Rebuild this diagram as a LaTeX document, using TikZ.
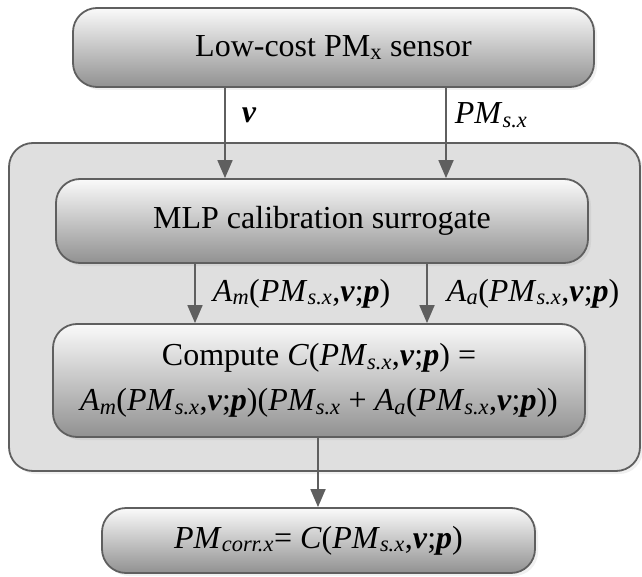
\documentclass[tikz,border=0pt]{standalone}
\usepackage{fontspec}
\setmainfont{Liberation Serif}
\usepackage{tikz}
\usetikzlibrary{positioning, arrows.meta, shadows}
\definecolor{bxLine}{RGB}{95, 95, 95}
\definecolor{bxTop}{RGB}{250, 250, 250}
\definecolor{bxBottom}{RGB}{145, 145, 145}
\definecolor{bxPanel}{RGB}{223, 223, 223}
\newcommand{\lowidx}[1]{\textsubscript{\itshape #1}}
\newcommand{\PMsx}{\textit{PM}\lowidx{s.x}}
\newcommand{\bv}{\textbf{\textit{v}}}
\newcommand{\bp}{\textbf{\textit{p}}}
\newcommand{\args}{(\PMsx,\bv;\bp)}
\tikzset{
    base/.style={
        font=\fontsize{32}{45}\selectfont,
        text=black,
        align=center
    },
    block/.style={
        base,
        rectangle,
        rounded corners=24pt,
        draw=bxLine,
        line width=1.8pt,
        top color=bxTop,
        bottom color=bxBottom,
        inner sep=0pt,
        drop shadow={opacity=0.12, shadow xshift=3pt, shadow yshift=-3pt}
    },
    panel/.style={
        rectangle,
        rounded corners=24pt,
        draw=bxLine,
        line width=1.8pt,
        fill=bxPanel,
        drop shadow={opacity=0.12, shadow xshift=3pt, shadow yshift=-3pt}
    },
    flow/.style={
        -{Triangle[length=18pt, width=15pt]},
        line width=1.8pt,
        draw=bxLine
    },
    lbl/.style={
        base,
        right,
        inner sep=0pt
    }
}

\begin{document}
\begin{tikzpicture}[x=1pt, y=-1pt]
  \useasboundingbox (0,0) rectangle (642,577);

  % Outer panel
  \node[panel, minimum width=631pt, minimum height=328pt] (group) at (324.5,307) {};

  % Boxes
  \node[block, minimum width=521pt, minimum height=79pt] (sensor) at (333.5,47.5) {Low-cost PM\textsubscript{x} sensor};
  \node[block, minimum width=532pt, minimum height=84pt] (mlp) at (322,221) {MLP calibration surrogate};
  \node[block, minimum width=532pt, minimum height=113pt] (calc) at (319,380.5)
    {Compute \textit{C}\args{} =\\ \textit{A}\lowidx{m}\args(\PMsx{} + \textit{A}\lowidx{a}\args)};
  \node[block, minimum width=433pt, minimum height=65pt] (result) at (318.5,540.5) {\textit{PM}\lowidx{corr.x}= \textit{C}\args};

  % Columns of the connectors
  \coordinate (colv) at (225,0);
  \coordinate (colpm) at (446,0);
  \coordinate (colam) at (195,0);
  \coordinate (colaa) at (427,0);
  \coordinate (colc) at (318,0);

  % Connectors
  \draw[flow] (sensor.south -| colv) -- node[lbl, pos=0.3, xshift=16pt] {\bv} (mlp.north -| colv);
  \draw[flow] (sensor.south -| colpm) -- node[lbl, pos=0.3, xshift=8pt] {\PMsx} (mlp.north -| colpm);
  \draw[flow] (mlp.south -| colam) -- node[lbl, pos=0.5, xshift=17pt] {\textit{A}\lowidx{m}\args} (calc.north -| colam);
  \draw[flow] (mlp.south -| colaa) -- node[lbl, pos=0.5, xshift=19pt] {\textit{A}\lowidx{a}\args} (calc.north -| colaa);
  \draw[flow] (calc.south -| colc) -- (result.north -| colc);
\end{tikzpicture}
\end{document}
